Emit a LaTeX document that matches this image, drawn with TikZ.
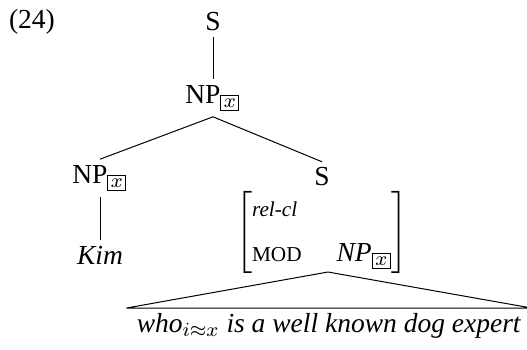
\documentclass[tikz,border=0pt]{standalone}
\usepackage{amsmath}
\usepackage[no-math]{fontspec}
\setmainfont{Liberation Serif}[
  UprightFont=*,
  BoldFont=* Bold,
  ItalicFont=* Italic,
  BoldItalicFont=* Bold Italic]
\usepackage{tikz}
\newcommand{\boxx}{{\setlength{\fboxsep}{1pt}\fbox{$\scriptstyle x$}}}

\begin{document}
\begin{tikzpicture}[x=0.4pt, y=-0.4pt, font=\fontsize{11}{13}\selectfont,
                    cat/.style={inner sep=2.2pt}]
                      \useasboundingbox (0,0) rectangle (527,349);
                      % Example number
                      \node (num) at (32,22) {(24)};

                      % Categories
                      \node [cat] (s0) at (213,22) {S};
                      \node [cat] (np0) at (213,98) {NP$_{\boxx}$};
                      \node [cat] (np1) at (100,178) {NP$_{\boxx}$};
                      \node [cat] (s1) at (322,177) {S};

                      % Words and feature structure
                      \node [cat] (kim) at (100,255) {\textit{Kim}};
                      \node [inner sep=0pt] (avm) at (322,232)
                        {$\left[\begin{array}{@{}l@{\hspace{14pt}}l@{}}
                          \text{\fontsize{8.5}{10}\selectfont\itshape rel-cl} & \\[5pt]
                          \text{\fontsize{8.5}{10}\selectfont MOD} & \textit{NP}_{\boxx}
                        \end{array}\right]$};
                      \node [inner ysep=2pt, inner xsep=4pt] (sent) at (329,326)
                        {\textit{who}$_{i\approx x}$ \textit{is a well known dog expert}};
                      \coordinate (apex) at (328,272);

                      % Branches
                      \draw (s0.south) -- (np0.north);
                      \draw (np0.south) -- (np1.north);
                      \draw (np0.south) -- (s1.north);
                      \draw (np1.south) -- (kim.north);
                      \draw (apex) -- (sent.north west) -- (sent.north east) -- cycle;
\end{tikzpicture}
\end{document}
